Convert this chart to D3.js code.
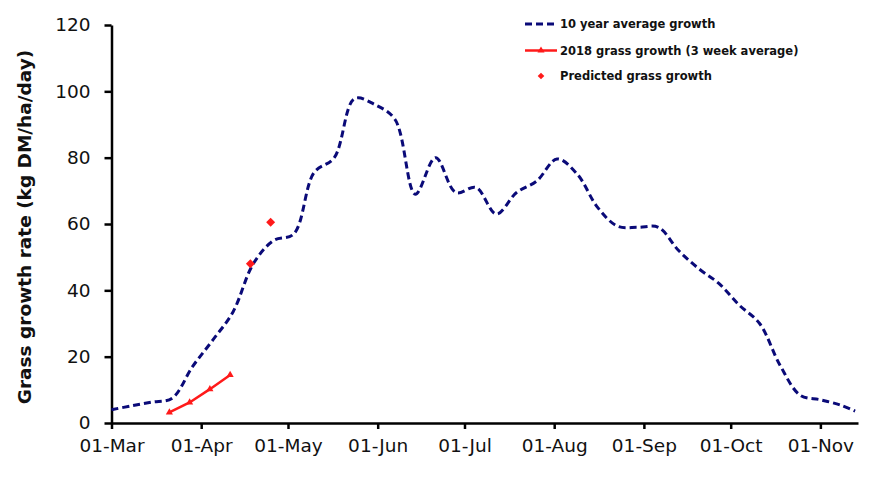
<!DOCTYPE html>
<html>
<head>
<meta charset="utf-8">
<script src="https://cdnjs.cloudflare.com/ajax/libs/d3/7.8.5/d3.min.js"></script>
<style>
  body { margin: 0; background: #fff; }
  svg { display: block; }
</style>
</head>
<body>
<div id="area1"></div>
<script>

// 10 year average, weekly points
var avgDates = ["2018-03-01","2018-03-08","2018-03-15","2018-03-22","2018-03-29","2018-04-05",
    "2018-04-12","2018-04-19","2018-04-26","2018-05-03","2018-05-10","2018-05-17","2018-05-24",
    "2018-05-31","2018-06-07","2018-06-14","2018-06-21","2018-06-28","2018-07-05","2018-07-12",
    "2018-07-19","2018-07-26","2018-08-02","2018-08-09","2018-08-16","2018-08-23","2018-08-30",
    "2018-09-06","2018-09-13","2018-09-20","2018-09-27","2018-10-04","2018-10-11","2018-10-18",
    "2018-10-25","2018-11-01","2018-11-08","2018-11-13"];
var avgValues = [4.0, 5.2, 6.3, 7.5, 17, 25,
    33.5, 48, 55, 57, 75.5, 80, 97.8,
    96, 91.5, 69, 80, 69.5, 71, 63,
    69.5, 73, 79.6, 75, 65, 59.3, 59,
    59, 52, 46.5, 42, 35.5, 30, 17.5,
    8.4, 7, 5.4, 3.6];

// 2018 grass growth (3 week average)
var growthDates = ["2018-03-21","2018-03-28","2018-04-04","2018-04-11"];
var growthValues = [3.2, 6.2, 10.2, 14.5];

// predicted
var predDates = ["2018-04-18","2018-04-25"];
var predValues = [48, 60.5];

var tickDates = ["2018-03-01","2018-04-01","2018-05-01","2018-06-01","2018-07-01",
    "2018-08-01","2018-09-01","2018-10-01","2018-11-01"];
var yTicks = [0, 20, 40, 60, 80, 100, 120];

var legendLabels = ["10 year average growth", "2018 grass growth (3 week average)", "Predicted grass growth"];

var navy = "#0a0a78", red = "#ff1a1a";

var parse = d3.utcParse("%Y-%m-%d");
var fmt = d3.utcFormat("%d-%b");

function zip(dates, vals) {
    return dates.map(function(d, i) { return { date: parse(d), value: vals[i] }; });
}

var avg = zip(avgDates, avgValues);
var growth = zip(growthDates, growthValues);
var pred = zip(predDates, predValues);

var svg = d3.select("#area1").append("svg")
    .attr("width", 881)
    .attr("height", 479);

var x = d3.scaleUtc()
    .domain([parse("2018-03-01"), parse("2018-11-14")])
    .range([111.5, 858]);

var y = d3.scaleLinear()
    .domain([0, 120])
    .range([423, 25]);

// axes
var xAxis = svg.append("g")
    .attr("transform", "translate(0,423)")
    .call(d3.axisBottom(x).tickValues(tickDates.map(parse)).tickFormat(fmt).tickSizeInner(6).tickSizeOuter(0).tickPadding(10));

var yAxis = svg.append("g")
    .attr("transform", "translate(111.5,0)")
    .call(d3.axisLeft(y).tickValues(yTicks).tickSizeInner(7).tickSizeOuter(0).tickPadding(14));

[xAxis, yAxis].forEach(function(g) {
    g.select(".domain").attr("stroke", "#000").attr("stroke-width", 2.5);
    g.selectAll(".tick line").attr("stroke", "#000").attr("stroke-width", 2.5);
    g.selectAll(".tick text")
        .attr("fill", "#111")
        .style("font-family", "'DejaVu Sans', sans-serif")
        .style("font-size", "18.5px");
});

svg.append("text")
    .attr("transform", "translate(31,227) rotate(-90)")
    .attr("text-anchor", "middle")
    .style("font-family", "'DejaVu Sans', sans-serif")
    .style("font-weight", "bold")
    .style("font-size", "18.5px")
    .attr("fill", "#111")
    .text("Grass growth rate (kg DM/ha/day)");

// 10 year average line
var line = d3.line()
    .x(function(d) { return x(d.date); })
    .y(function(d) { return y(d.value); })
    .curve(d3.curveCatmullRom.alpha(0.5));

svg.append("path")
    .datum(avg)
    .attr("d", line)
    .attr("fill", "none")
    .attr("stroke", navy)
    .attr("stroke-width", 3)
    .attr("stroke-dasharray", "7,4");

// 2018 line
svg.append("path")
    .datum(growth)
    .attr("d", d3.line().x(function(d) { return x(d.date); }).y(function(d) { return y(d.value); }))
    .attr("fill", "none")
    .attr("stroke", red)
    .attr("stroke-width", 2.5);

var tri = d3.symbol().type(d3.symbolTriangle).size(22);
svg.selectAll(".tri")
    .data(growth)
    .enter().append("path")
    .attr("class", "tri")
    .attr("d", tri)
    .attr("transform", function(d) { return "translate(" + x(d.date) + "," + y(d.value) + ")"; })
    .attr("fill", red);

// predicted
var dia = d3.symbol().type(d3.symbolSquare).size(40);
svg.selectAll(".pred")
    .data(pred)
    .enter().append("path")
    .attr("class", "pred")
    .attr("d", dia)
    .attr("transform", function(d) { return "translate(" + x(d.date) + "," + y(d.value) + ") rotate(45)"; })
    .attr("fill", red);

// legend
var leg = svg.append("g");
var rowsY = [24, 50.5, 76];

leg.append("line")
    .attr("x1", 525).attr("x2", 557).attr("y1", rowsY[0]).attr("y2", rowsY[0])
    .attr("stroke", navy).attr("stroke-width", 3).attr("stroke-dasharray", "7,4");

leg.append("line")
    .attr("x1", 525).attr("x2", 557).attr("y1", rowsY[1]).attr("y2", rowsY[1])
    .attr("stroke", red).attr("stroke-width", 2.5);
leg.append("path")
    .attr("d", tri)
    .attr("transform", "translate(541," + rowsY[1] + ")")
    .attr("fill", red);

leg.append("path")
    .attr("d", d3.symbol().type(d3.symbolSquare).size(22))
    .attr("transform", "translate(541," + rowsY[2] + ") rotate(45)")
    .attr("fill", red);

leg.selectAll("text")
    .data(legendLabels)
    .enter().append("text")
    .attr("x", 560)
    .attr("y", function(d, i) { return rowsY[i]; })
    .attr("dy", "0.36em")
    .style("font-family", "'DejaVu Sans', sans-serif")
    .style("font-weight", "bold")
    .style("font-size", "11.5px")
    .attr("fill", "#111")
    .text(function(d) { return d; });

</script>
</body>
</html>
